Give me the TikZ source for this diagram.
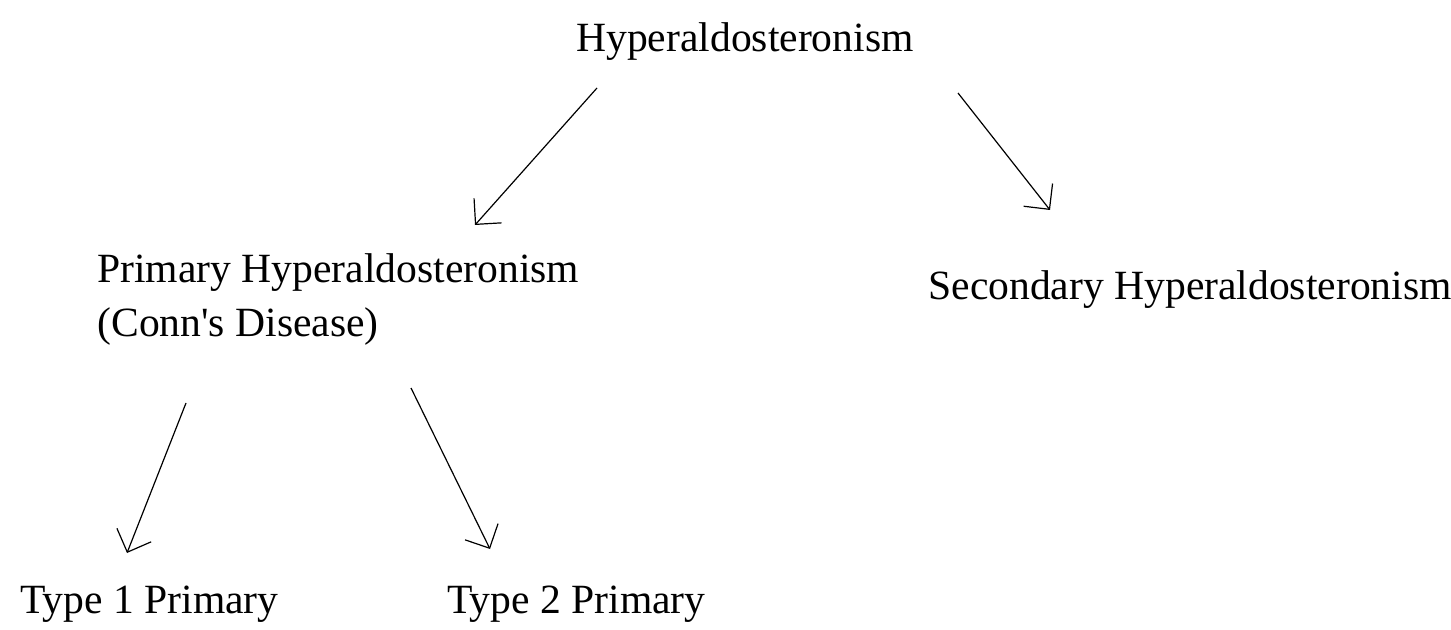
\documentclass[tikz,border=0pt]{standalone}
\usepackage{fontspec}
\setmainfont{Liberation Serif}
\usetikzlibrary{arrows.meta,positioning}

\begin{document}
\begin{tikzpicture}[
  x=0.5pt, y=-0.5pt,
  term/.style={inner sep=0pt, font=\fontsize{20.8}{27}\selectfont, align=left},
  arr/.style={-{Straight Barb[angle=90:13pt]}, line width=0.6pt}
]
\useasboundingbox (0,0) rectangle (1451,630);

\node[term, anchor=base] (hyper) at (745,52) {Hyperaldosteronism};

\node[term, anchor=base west] (prim) at (97,337) {Primary Hyperaldosteronism\\(Conn\textquotesingle s Disease)};

\node[term, anchor=base west] (sec) at (928,300) {Secondary Hyperaldosteronism};

\node[term, anchor=base west] (type1) at (20,613) {Type 1 Primary};
\node[term, anchor=base west] (type2) at (447,613) {Type 2 Primary};

% arrow ends
\coordinate (hyper-l) at (597,88);
\coordinate (prim-top) at (475,225);
\coordinate (hyper-r) at (958,93);
\coordinate (sec-top) at (1050,210);
\coordinate (prim-l) at (186,403);
\coordinate (type1-top) at (127,553);
\coordinate (prim-r) at (411,388);
\coordinate (type2-top) at (490,549);

\draw[arr] (hyper-l) -- (prim-top);
\draw[arr] (hyper-r) -- (sec-top);
\draw[arr] (prim-l) -- (type1-top);
\draw[arr] (prim-r) -- (type2-top);

\end{tikzpicture}
\end{document}
